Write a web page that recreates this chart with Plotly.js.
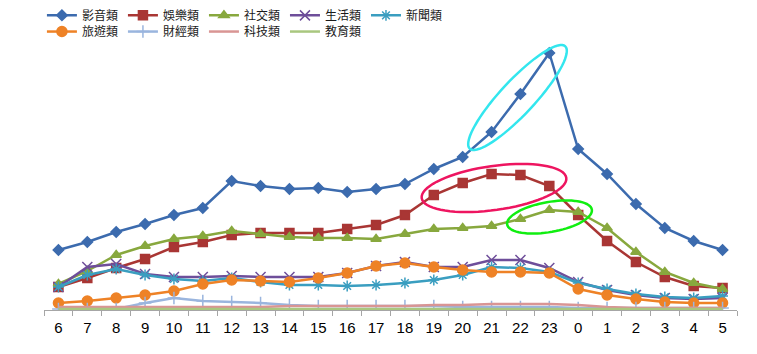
<!DOCTYPE html>
<html>
<head>
<meta charset="utf-8">
<script src="https://cdn.plot.ly/plotly-3.0.1.min.js"></script>
<style>html,body{margin:0;padding:0;background:#fff;}#chart{width:757px;height:354px;}</style>
</head>
<body>
<div id="chart"></div>
<script>
const hours = ['6','7','8','9','10','11','12','13','14','15','16','17','18','19','20','21','22','23','0','1','2','3','4','5'];
const seriesNames = ['影音類','娛樂類','社交類','生活類','新聞類','旅遊類','財經類','科技類','教育類'];
const video   = [60,68,78,86,95,102,129,124,121,122,118,121,126,141,153,178,216,257,161,136,106,82,69,60];
const ent     = [23,32,42,51,63,68,75,77,77,77,81,85,95,115,127,136,135,124,95,69,48,33,24,22];
const social  = [26,39,55,64,71,74,79,76,73,72,72,71,76,81,82,84,91,100,98,82,58,38,27,21];
const life    = [23,43,46,36,33,33,34,33,33,33,37,44,48,43,43,50,50,42,28,20,15,12,11,12];
const news    = [23,35,41,35,31,29,32,28,25,25,24,25,27,30,35,43,42,38,27,21,16,13,12,14];
const travel  = [7,9,12,15,19,26,30,29,28,32,37,44,47,43,40,38,38,37,21,15,11,8,7,7];
const finance = [1,1,1,7,12,9,8,7,5,4,4,4,4,4,3,3,3,3,2,2,2,2,2,2];
const tech    = [3,3,3,3,3,3,3,3,4,4,4,4,4,5,5,6,6,6,5,3,2,2,2,2];
const edu     = [1,1,1,1,1,1,1,1,1,1,1,1,1,1,1,1,1,1,1,1,1,1,1,1];

const values = [video, ent, social, life, news, travel, finance, tech, edu];
const colors = ['#3C6BAE','#A93634','#88A83E','#6E4E9A','#3A9EC0','#EE8226','#9AB5DE','#D99594','#A9C77F'];
const symbols = ['diamond','square','triangle-up','x-thin-open','asterisk-open','circle','cross-thin-open',null,null];
const msizes = [8,9,9,10,9,10,9,0,0];

const traces = values.map((v,i)=>{
  const t = {
    type:'scatter', x:hours, y:v, name:seriesNames[i],
    mode: symbols[i] ? 'lines+markers' : 'lines',
    line:{color:colors[i], width:2.5},
    legend: i < 5 ? 'legend' : 'legend2'
  };
  if (symbols[i]) t.marker = {symbol:symbols[i], size:msizes[i], color:colors[i], line:{color:colors[i], width:1.5}};
  return t;
});

// plot-area geometry (pixels) for annotation ellipses
const L = 44, T = 40, W = 693, H = 270;
function ellipsePath(cx, cy, a, b, deg){
  const th = deg*Math.PI/180; const pts = [];
  for (let k=0;k<=72;k++){
    const t = 2*Math.PI*k/72;
    const px = cx + a*Math.cos(t)*Math.cos(th) - b*Math.sin(t)*Math.sin(th);
    const py = cy - (a*Math.cos(t)*Math.sin(th) + b*Math.sin(t)*Math.cos(th));
    pts.push(((px-L)/W).toFixed(5)+','+((T+H-py)/H).toFixed(5));
  }
  return 'M'+pts.join('L')+'Z';
}
const shapes = [
  {type:'path', xref:'paper', yref:'paper', path:ellipsePath(517.5,97.5,70,17,47), line:{color:'#33E6EE', width:2.5}},
  {type:'path', xref:'paper', yref:'paper', path:ellipsePath(494,188,73,22,8), line:{color:'#EE1560', width:2.5}},
  {type:'path', xref:'paper', yref:'paper', path:ellipsePath(549.5,217,43,15,10), line:{color:'#10EE10', width:2.5}}
];

const legendCommon = {orientation:'h', xanchor:'left', yanchor:'top', bgcolor:'rgba(0,0,0,0)',
  font:{family:'"Noto Sans CJK TC", "Noto Sans CJK SC", sans-serif', size:12, color:'#1a1a1a'}, itemclick:false};

const layout = {
  width:757, height:354,
  margin:{l:L, r:757-L-W, t:T, b:354-T-H, autoexpand:false},
  paper_bgcolor:'#fff', plot_bgcolor:'#fff',
  showlegend:true,
  legend: Object.assign({x:-0.003, y:1.145}, legendCommon),
  legend2: Object.assign({x:-0.003, y:1.085}, legendCommon),
  xaxis:{type:'category', showgrid:false, zeroline:false, showline:true, linecolor:'#A6A6A6', linewidth:1,
    ticks:'outside', tickson:'boundaries', ticklen:5, tickcolor:'#A6A6A6', ticklabelstandoff:4,
    tickfont:{family:'"Liberation Sans Narrow", "Liberation Sans", Arial, sans-serif', size:15, color:'#000'},
    range:[-0.5,23.5], fixedrange:true},
  yaxis:{visible:false, range:[0,270], showgrid:false, zeroline:false, fixedrange:true},
  shapes:shapes
};
Plotly.newPlot('chart', traces, layout, {displayModeBar:false, staticPlot:true});
</script>
</body>
</html>
